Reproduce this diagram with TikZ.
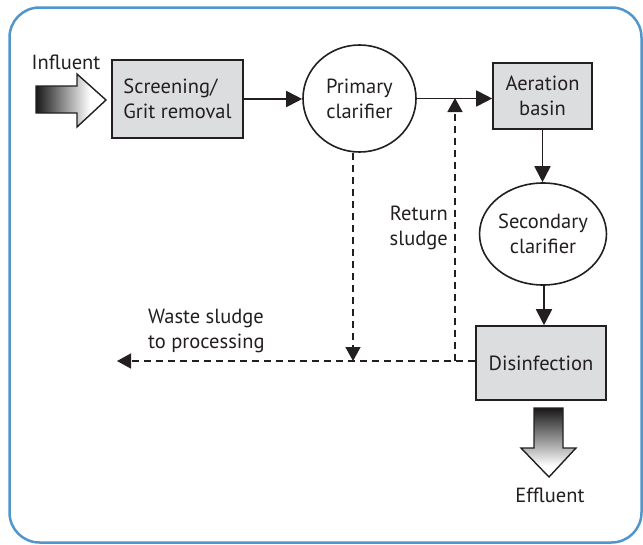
\documentclass[tikz,border=0pt]{standalone}
\usepackage{fontspec}
\setmainfont{PT Sans}
\usetikzlibrary{arrows.meta,shapes.geometric}
\definecolor{frameblue}{RGB}{80,150,205}
\definecolor{boxgray}{RGB}{220,221,223}
\definecolor{ink}{RGB}{35,31,32}
\begin{document}
\begin{tikzpicture}[x=1pt,y=-1pt,
  every node/.style={font=\fontsize{20.5}{25}\selectfont, text=ink},
  procbox/.style={draw=ink, line width=1.6pt, fill=boxgray, rectangle, inner sep=0pt},
  tank/.style={draw=ink, line width=1.6pt, ellipse, inner sep=0pt},
  flow/.style={draw=ink, line width=1.8pt, -{Triangle[length=16pt,width=16pt]}},
  sludge/.style={draw=ink, line width=1.5pt, dash pattern=on 7pt off 5pt, -{Triangle[length=14pt,width=15pt]}},
  lbl/.style={inner sep=0pt}
]
\useasboundingbox (0,0) rectangle (643,544);
\draw[frameblue, line width=2.5pt, rounded corners=30pt] (9.5,7.5) rectangle (641.5,542.5);

% influent arrow
\begin{scope}
\clip (36,86) -- (77,86) -- (77,74) -- (106,100) -- (77,127) -- (77,113) -- (36,113) -- cycle;
\fill[white] (30,70) rectangle (110,130);
\shade[left color=black, right color=white] (30,70) rectangle (90,130);
\end{scope}
\draw[ink, line width=1.4pt, line join=miter] (36,86) -- (77,86) -- (77,74) -- (106,100) -- (77,127) -- (77,113) -- (36,113) -- cycle;
\node[lbl] (influent) at (66,62) {Influent};

% nodes
\node[procbox, minimum width=131pt, minimum height=78pt, align=left] (screen) at (177.5,99) {Screening/\\Grit removal};
\node[tank, minimum width=113pt, minimum height=107pt, align=center] (primary) at (359.5,98.5) {Primary\\clarifier};
\node[procbox, minimum width=99pt, minimum height=66pt, align=center] (aer) at (542.5,96) {Aeration\\basin};
\node[tank, minimum width=110pt, minimum height=102pt, align=center] (secondary) at (543,234) {Secondary\\clarifier};
\node[procbox, minimum width=130pt, minimum height=74pt] (dis) at (541,363) {Disinfection};

% effluent arrow
\begin{scope}
\clip (534,408) -- (563,408) -- (563,448) -- (576,448) -- (549,477) -- (521,448) -- (534,448) -- cycle;
\fill[white] (515,400) rectangle (580,480);
\shade[top color=black, bottom color=white] (515,402) rectangle (580,466);
\end{scope}
\draw[ink, line width=1.4pt, line join=miter] (534,408) -- (563,408) -- (563,448) -- (576,448) -- (549,477) -- (521,448) -- (534,448) -- cycle;
\node[lbl] (effluent) at (550,495) {Effluent};

% main flow
\draw[flow] (screen.east |- 0,99) -- (primary.west |- 0,99);
\draw[flow] (primary.east) -- (aer.west |- primary.east);
\draw[flow] (aer.south) -- (secondary.north -| aer.south);
\draw[flow] (secondary.south -| 544,0) -- (dis.north -| 544,0);

% sludge lines
\coordinate (wasteend) at (117,361);
\coordinate (wastejoin) at (353,361);
\coordinate (returnjoin) at (455,361);
\coordinate (returntop) at (455,98);
\draw[sludge] (dis.west |- 0,361) -- (wasteend);
\draw[sludge] (primary.south -| 353,0) -- (wastejoin);
\draw[sludge] (returnjoin) -- (returntop);

\node[lbl, align=right, anchor=east] (ret) at (448,228) {Return\\sludge};
\node[lbl, align=left, anchor=west] (waste) at (148,331) {Waste sludge\\to processing};
\end{tikzpicture}
\end{document}
